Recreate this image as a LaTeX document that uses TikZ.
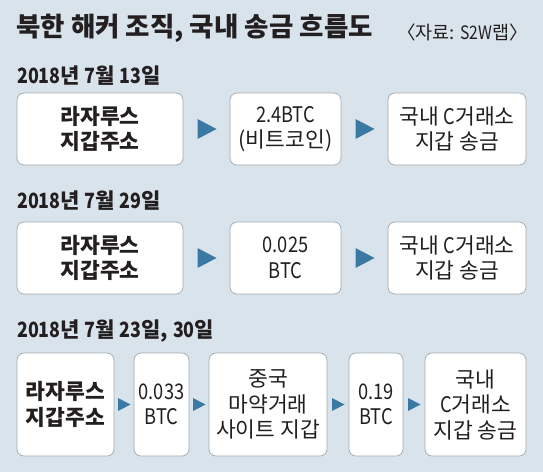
\documentclass[tikz,border=0pt]{standalone}
\usepackage{fontspec}
\setmainfont{Noto Sans CJK KR}
\newfontfamily\nf[FakeStretch=0.85]{Noto Sans CJK KR}
\usetikzlibrary{calc}
\definecolor{bgc}{HTML}{D9E3EB}
\definecolor{boxline}{HTML}{A3A9AE}
\definecolor{arrc}{HTML}{3A79A4}
\definecolor{txt}{HTML}{231F20}
\tikzset{
  boxnode/.style={draw=boxline, fill=white, rounded corners=7pt, line width=0.7pt,
    align=center, inner sep=0pt, text=txt, font=\fontsize{21.5}{25.5}\selectfont},
  boldbox/.style={boxnode, font=\fontsize{21.5}{25.5}\selectfont\bfseries},
  datelabel/.style={anchor=west, inner sep=0pt, text=txt, font=\fontsize{21}{23}\selectfont\bfseries},
}
\newcommand{\bigtri}[1]{\fill[arrc] ($(#1)+(-9,-10)$) -- ($(#1)+(10,0)$) -- ($(#1)+(-9,10)$) -- cycle;}
\newcommand{\smalltri}[1]{\fill[arrc] ($(#1)+(-6,-6.5)$) -- ($(#1)+(6.5,0)$) -- ($(#1)+(-6,6.5)$) -- cycle;}
\begin{document}
\begin{tikzpicture}[x=1pt,y=-1pt]
\fill[bgc] (0,0) rectangle (543,472);
\useasboundingbox (0,0) rectangle (543,472);

\node[anchor=west, inner sep=0pt, text=txt, font=\fontsize{26.5}{30}\selectfont\bfseries] (title) at (16,28) {북한 해커 조직, 국내 송금 흐름도};
\node[anchor=east, inner sep=0pt, text=txt, font=\fontsize{18.5}{21}\selectfont] (src) at (528,32) {〈자료: {\nf S2W}랩〉};

% Row 1
\node[datelabel] (d1) at (17,76) {{\nf 2018}년 {\nf 7}월 {\nf 13}일};
\node[boldbox, minimum width=166pt, minimum height=72pt] (a1) at (100,129) {라자루스\\지갑주소};
\node[boxnode, minimum width=111pt, minimum height=72pt] (a2) at (285.5,129) {{\nf 2.4BTC}\\(비트코인)};
\node[boxnode, minimum width=138pt, minimum height=72pt] (a3) at (457,129) {국내 {\nf C}거래소\\지갑 송금};
\coordinate (ma1) at ($(a1.east)!0.5!(a2.west)$);
\coordinate (ma2) at ($(a2.east)!0.5!(a3.west)$);
\bigtri{ma1}
\bigtri{ma2}

% Row 2
\node[datelabel] (d2) at (17,201) {{\nf 2018}년 {\nf 7}월 {\nf 29}일};
\node[boldbox, minimum width=166pt, minimum height=72pt] (b1) at (100,258) {라자루스\\지갑주소};
\node[boxnode, minimum width=111pt, minimum height=72pt] (b2) at (285.5,258) {{\nf 0.025}\\{\nf BTC}};
\node[boxnode, minimum width=138pt, minimum height=72pt] (b3) at (457,258) {국내 {\nf C}거래소\\지갑 송금};
\coordinate (mb1) at ($(b1.east)!0.5!(b2.west)$);
\coordinate (mb2) at ($(b2.east)!0.5!(b3.west)$);
\bigtri{mb1}
\bigtri{mb2}

% Row 3
\node[datelabel] (d3) at (17,331) {{\nf 2018}년 {\nf 7}월 {\nf 23}일, {\nf 30}일};
\node[boldbox, minimum width=97pt, minimum height=103pt] (c1) at (65.5,404.5) {라자루스\\지갑주소};
\node[boxnode, minimum width=55pt, minimum height=103pt] (c2) at (161.5,404.5) {{\nf 0.033}\\{\nf BTC}};
\node[boxnode, minimum width=118pt, minimum height=103pt] (c3) at (268,404.5) {중국\\마약거래\\사이트 지갑};
\node[boxnode, minimum width=54pt, minimum height=103pt] (c4) at (376,404.5) {{\nf 0.19}\\{\nf BTC}};
\node[boxnode, minimum width=101pt, minimum height=103pt] (c5) at (475.5,404.5) {국내\\{\nf C}거래소\\지갑 송금};
\coordinate (mc1) at ($(c1.east)!0.5!(c2.west)$);
\coordinate (mc2) at ($(c2.east)!0.5!(c3.west)$);
\coordinate (mc3) at ($(c3.east)!0.5!(c4.west)$);
\coordinate (mc4) at ($(c4.east)!0.5!(c5.west)$);
\smalltri{mc1}
\smalltri{mc2}
\smalltri{mc3}
\smalltri{mc4}
\end{tikzpicture}
\end{document}
